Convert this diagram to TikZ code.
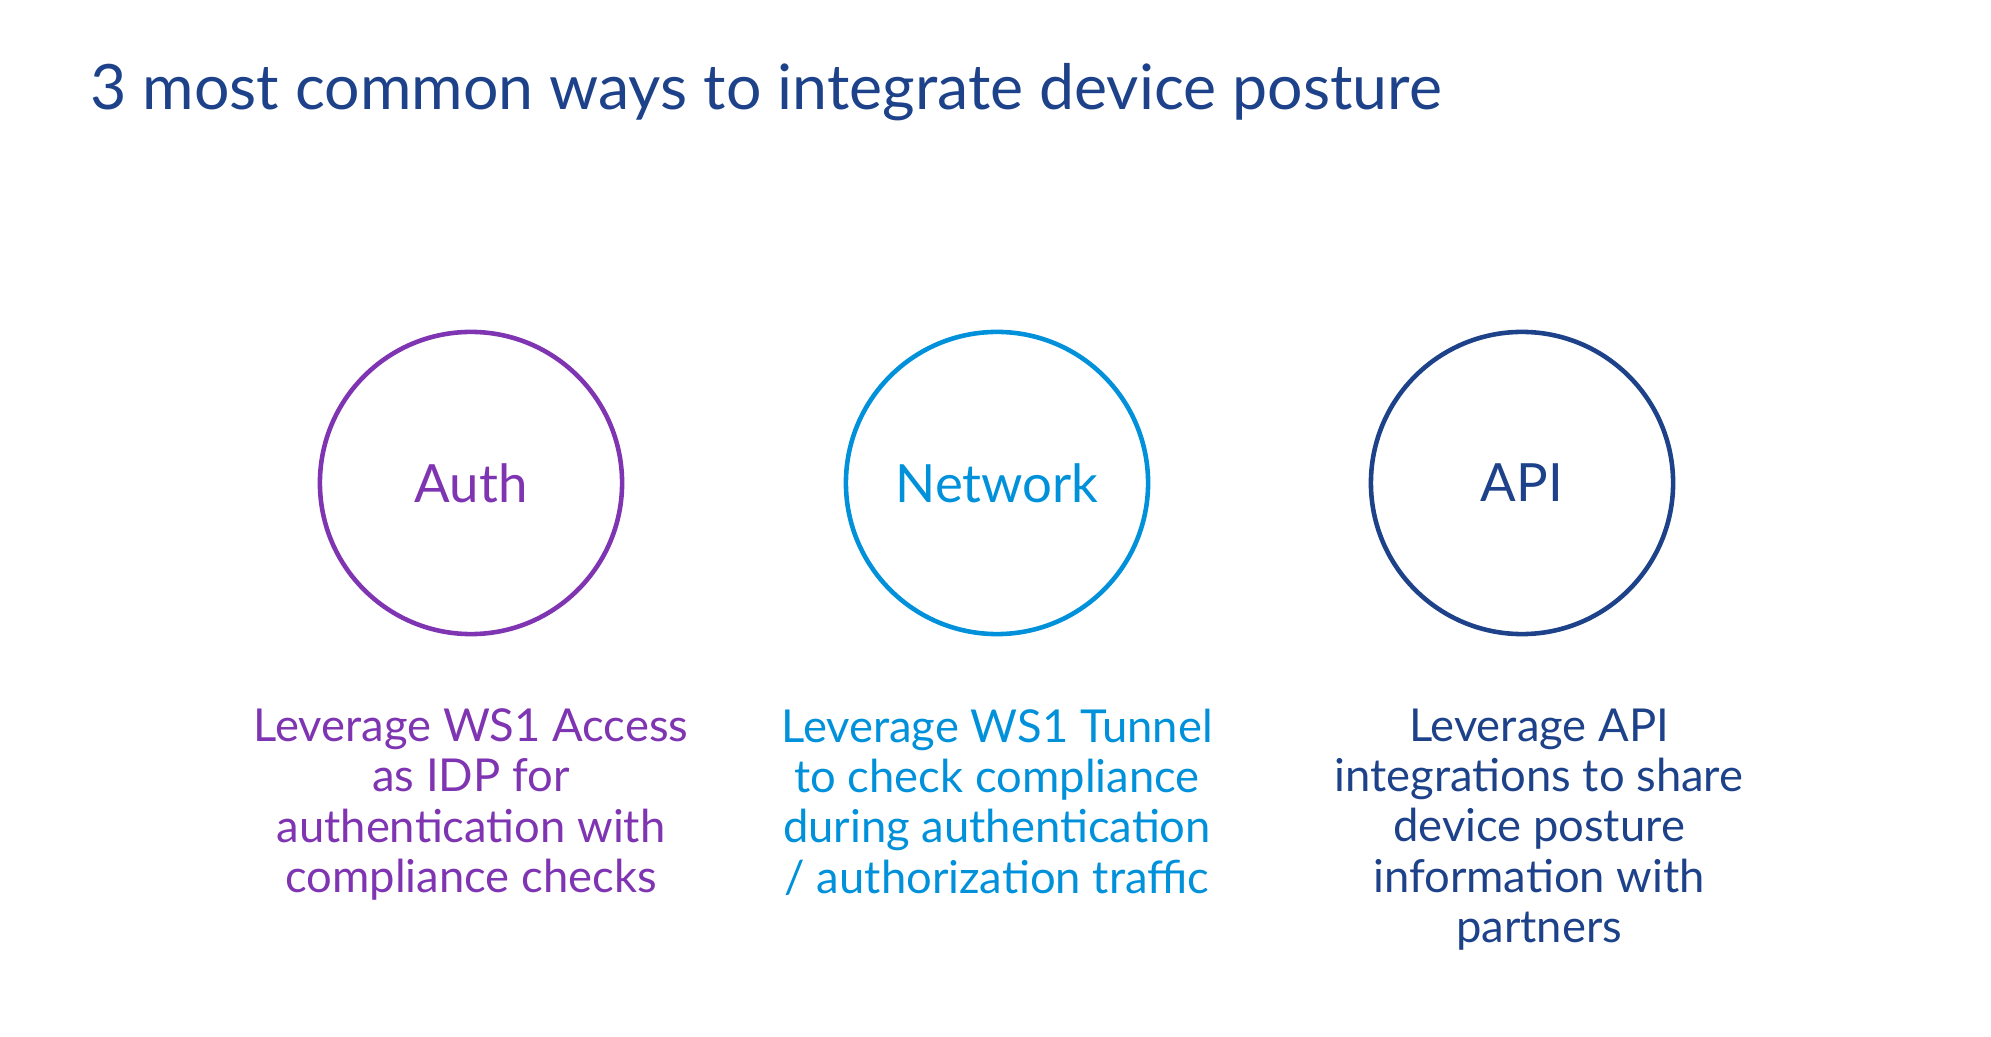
\documentclass[tikz,border=0pt]{standalone}
\usepackage{fontspec}
\setmainfont{Lato}
\usetikzlibrary{positioning}
\definecolor{authc}{HTML}{7F35B2}
\definecolor{netc}{HTML}{0091DA}
\definecolor{apic}{HTML}{1D428A}
\begin{document}
\begin{tikzpicture}[x=0.01cm,y=-0.01cm,
    ring/.style={circle,draw,line width=1.3pt,minimum size=3.02cm,
        font=\fontsize{15}{17}\selectfont},
    blurb/.style={align=center,font=\fontsize{12.9}{14.3}\selectfont,
        below=0.6cm of #1.south,anchor=north},
    node distance=6mm
  ]
    \useasboundingbox (0,0) rectangle (1991,1037);
    \node[anchor=west,text=apic,font=\fontsize{17.8}{20}\selectfont]
        (title) at (78,92) {3 most common ways to integrate device posture};

    \node[ring,draw=authc,text=authc] (auth) at (471,483) {Auth};
    \node[ring,draw=netc,text=netc]   (net)  at (997,483) {Network};
    \node[ring,draw=apic,text=apic]   (api)  at (1522,483) {API};

    \node[text=authc,blurb=auth] (authtxt)
        {Leverage WS1 Access\\as IDP for\\authentication with\\compliance checks};
    \node[text=netc,blurb=net] (nettxt)
        {Leverage WS1 Tunnel\\to check compliance\\during authentication\\/ authorization traffic};
    \node[text=apic,blurb=api,xshift=0.17cm] (apitxt)
        {Leverage API\\integrations to share\\device posture\\information with\\partners};
\end{tikzpicture}
\end{document}
